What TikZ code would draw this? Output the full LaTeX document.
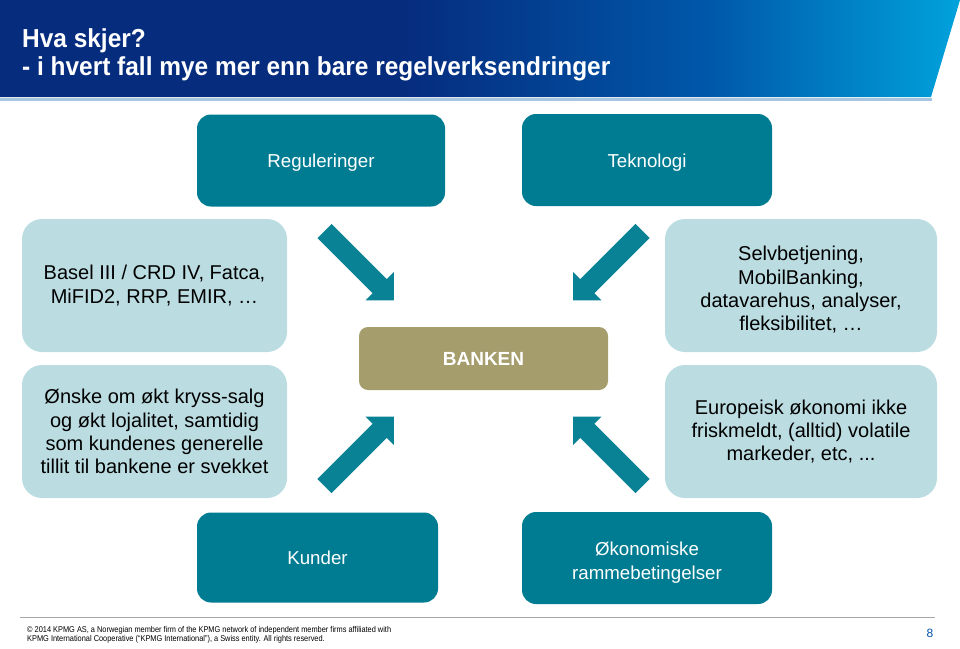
\documentclass[tikz,border=0pt]{standalone}
\usepackage{fontspec}
\setmainfont{Liberation Sans}
\newfontfamily\narrowfont[FakeStretch=0.88]{Liberation Sans}
\newfontfamily\titlefont[FakeStretch=0.94]{Liberation Sans}
\usepackage{xcolor}
\usepackage{tikz}
\usetikzlibrary{positioning,calc}
\definecolor{hdark}{RGB}{6,44,126}
\definecolor{hmid}{RGB}{0,88,170}
\definecolor{hlight}{RGB}{0,162,220}
\definecolor{kpmgteal}{RGB}{0,124,146}
\definecolor{arrowteal}{RGB}{10,130,150}
\definecolor{paleteal}{RGB}{187,221,226}
\definecolor{bankgold}{RGB}{165,157,108}
\definecolor{pageblue}{RGB}{0,82,170}
% path box is mapped onto 25bp--75bp of the shading
\pgfdeclarehorizontalshading{kpmgheader}{100bp}{color(0bp)=(hdark); color(25bp)=(hdark); color(46bp)=(hdark); color(62bp)=(hmid); color(75bp)=(hlight); color(100bp)=(hlight)}
\tikzstyle{driver} = [rectangle, rounded corners=14pt, fill=kpmgteal, text=white,
    minimum width=248pt, minimum height=92pt, align=center,
    font=\fontsize{18.7}{24}\selectfont]
\tikzstyle{oneline} = [text height=16pt, text depth=2pt]
\tikzstyle{effect} = [rectangle, rounded corners=20pt, fill=paleteal, text=black,
    minimum width=265pt, minimum height=133pt, align=center,
    font=\fontsize{20}{23.3}\selectfont]
\tikzstyle{bank} = [rectangle, rounded corners=9pt, fill=bankgold, text=white,
    minimum width=249pt, minimum height=63pt, font=\fontsize{19}{22}\selectfont\bfseries]
\tikzstyle{footer} = [inner sep=0pt, align=left, font=\narrowfont\fontsize{8.4}{9.6}\selectfont]
\tikzset{bankarrow/.pic={
    \fill[arrowteal] (0,-10) -- (78,-10) -- (78,-20) -- (98,0) -- (78,20) -- (78,10) -- (0,10) -- cycle;}}
\newcommand{\toplift}{\rule{0pt}{23pt}}

\begin{document}
\begin{tikzpicture}[x=1pt, y=-1pt]
    \useasboundingbox (0,0) rectangle (960,648);
    % header band
    \shade[shading=kpmgheader] (0,0) -- (960,0) -- (931,97) -- (0,97) -- cycle;
    \fill[hmid!35!white] (0,98) rectangle (932,101);
    \node (title) [anchor=west, inner sep=0pt, text=white, align=left,
        font=\titlefont\fontsize{26}{28}\selectfont\bfseries] at (22,55)
        {Hva skjer?\\- i hvert fall mye mer enn bare regelverksendringer};

    \node (bank) [bank] at (483.5,358.5) {BANKEN};

    \node (regul) [driver, oneline] at (321,160.5) {Reguleringer};
    \node (tekno) [driver, oneline, minimum width=250pt] at (647,160) {Teknologi};
    \node (kunder) [driver, oneline, minimum width=241pt, minimum height=90pt] at (317.5,557.5) {Kunder};
    \node (okonomi) [driver, minimum width=250pt] at (647,558) {\toplift Økonomiske\\rammebetingelser};

    \node (basel) [effect] at (154.5,285.5) {Basel III / CRD IV, Fatca,\\MiFID2, RRP, EMIR, \dots};
    \node (onske) [effect] at (154.5,431.5) {Ønske om økt kryss-salg\\og økt lojalitet, samtidig\\som kundenes generelle\\tillit til bankene er svekket};
    \node (selv) [effect, minimum width=272pt] at (801,285.5) {\toplift Selvbetjening,\\MobilBanking,\\datavarehus, analyser,\\fleksibilitet, \dots};
    \node (europa) [effect, minimum width=272pt] at (801,431.5) {Europeisk økonomi ikke\\friskmeldt, (alltid) volatile\\markeder, etc, ...};

    % arrows into the bank
    \coordinate (tl) at (324.5,231);
    \coordinate (tr) at (642.5,231);
    \coordinate (bl) at (324.5,486);
    \coordinate (br) at (642.5,486);
    \pic[rotate=-45] at (tl) {bankarrow};
    \pic[rotate=-135] at (tr) {bankarrow};
    \pic[rotate=45] at (bl) {bankarrow};
    \pic[rotate=135] at (br) {bankarrow};

    % footer
    \draw[black!35, line width=1pt] (20,617) -- (935,617);
    \node (copy) [footer, anchor=north west] at (27,626)
        {© 2014 KPMG AS, a Norwegian member firm of the KPMG network of independent member firms affiliated with\\KPMG International Cooperative (“KPMG International”), a Swiss entity. All rights reserved.};
    \node (page) [inner sep=0pt, text=pageblue, font=\fontsize{12}{12}\selectfont] at (930,633) {8};
\end{tikzpicture}
\end{document}
